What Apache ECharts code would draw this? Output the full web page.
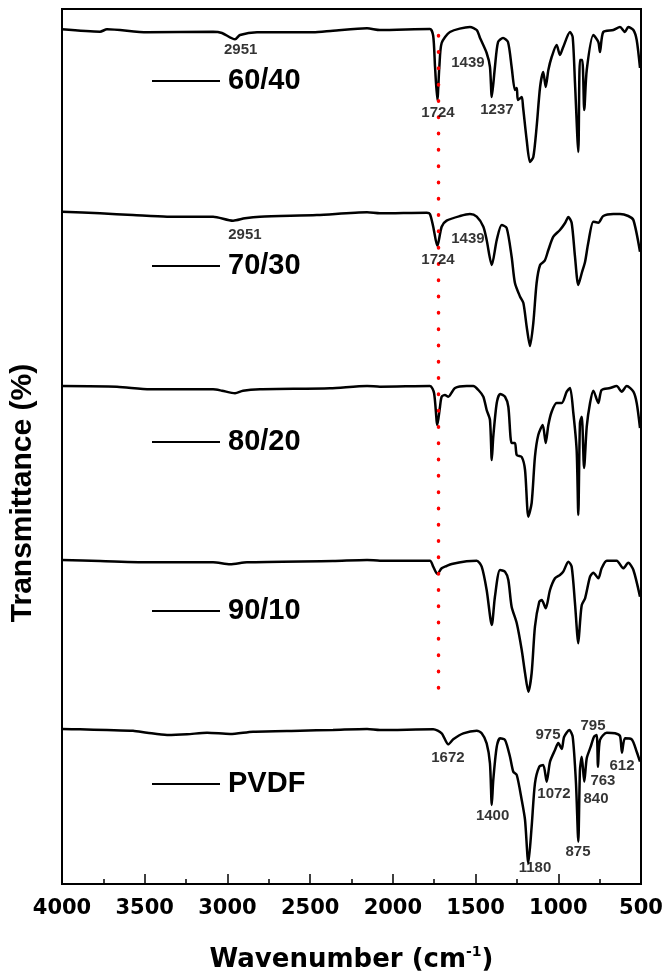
<!DOCTYPE html>
<html>
<head>
<meta charset="utf-8">
<script src="https://cdn.jsdelivr.net/npm/echarts@6/dist/echarts.min.js"></script>
<style>html,body{margin:0;padding:0;background:#fff;}#c{width:667px;height:976px;}</style>
</head>
<body>
<div id="c"></div>
<script>
// ---- data (wavenumber cm-1, relative transmittance) ----
const seriesNames = ['60/40', '70/30', '80/20', '90/10', 'PVDF'];
const offsets = [755, 572, 398, 224, 55];
const xTicks = [4000, 3500, 3000, 2500, 2000, 1500, 1000, 500];

const s6040 = [[4000,99.7],[3770,97.3],[3728,99.7],[3486,96.7],[3087,97.3],[3033,96],[2954,89.7],[2924,94],[2821,96.7],[2483,96.7],[2362,98.3],[2156,100.7],[2078,99],[1776,100],[1756,93],[1745,62],[1731,29],[1719,62],[1705,86],[1655,97],[1534,102],[1493,99],[1473,91],[1433,76],[1413,62],[1402,32],[1383,62],[1364,87],[1334,91],[1304,87],[1282,62],[1262,39],[1251,41],[1244,29],[1221,32],[1213,22],[1191,-11],[1171,-33],[1151,-28],[1131,2],[1110,42],[1091,57],[1076,42],[1060,59],[1040,72],[1010,84],[990,74],[970,82],[929,97],[913,92],[899,46],[879,-23],[869,69],[855,69],[843,19],[828,59],[788,94],[758,87],[748,77],[728,97],[667,99],[627,102],[597,97],[577,102],[546,99],[526,89],[506,61]];
const s7030 = [[4000,100.3],[3770,98.7],[3571,97],[3365,95.3],[3087,95.3],[2966,91.3],[2894,93.7],[2803,95.3],[2459,97],[2156,99.7],[2078,98.7],[1795,99.3],[1776,98],[1756,85.3],[1731,66],[1705,85.3],[1675,91.3],[1594,96],[1534,98],[1493,95.3],[1453,85.3],[1433,72],[1402,47],[1372,72],[1342,87],[1312,84],[1282,55.3],[1262,29],[1231,15.3],[1211,9],[1191,-14.7],[1171,-34],[1151,-11],[1131,29],[1110,47],[1082,51.3],[1060,62],[1030,75.3],[990,82],[959,89],[939,95],[919,89],[899,55.3],[879,27],[858,39],[838,50.3],[819,69],[788,90.3],[758,89.3],[728,96],[667,98],[627,98],[577,96],[546,92],[506,60.3]];
const s8020 = [[4000,100],[3668,99.3],[3468,96.7],[3087,96.7],[3033,95.3],[2954,92.7],[2906,95.3],[2803,96.7],[2380,97.7],[2156,100],[2078,99.3],[1776,100],[1751,93],[1731,61],[1715,79.3],[1705,89.3],[1685,91],[1665,89.3],[1624,98],[1554,100],[1514,100],[1483,96],[1453,89.3],[1433,76],[1413,66],[1402,26],[1393,49.3],[1372,83],[1352,92],[1322,89.3],[1302,79.3],[1282,43],[1262,43],[1251,31],[1221,29],[1201,16],[1181,-30.7],[1161,-17],[1141,29.3],[1121,51],[1094,61],[1076,43],[1060,61],[1040,74.3],[1010,83],[979,83],[949,94.3],[929,98],[909,73],[889,36],[879,-29],[869,63],[858,69.3],[844,18],[828,59.3],[808,83],[788,95.3],[758,83],[738,96],[687,98],[647,100],[617,94.3],[586,100],[546,94.3],[526,83],[506,58]];
const s9010 = [[4000,100],[3770,99],[3450,97.7],[3087,97.7],[2984,95.7],[2882,97.7],[2362,99],[2156,100],[2078,99.3],[1776,99.3],[1756,93.3],[1731,86],[1705,91.7],[1675,94],[1644,96],[1554,98.7],[1493,99.3],[1463,93.3],[1433,70],[1402,35],[1383,63.3],[1352,90],[1322,88.3],[1302,80],[1282,53.3],[1251,36.7],[1221,10],[1201,-13],[1181,-31.7],[1161,-13],[1141,33.3],[1115,58.3],[1100,60],[1076,51.7],[1050,70],[1020,81.7],[990,85],[970,88.3],[939,98.3],[919,93.3],[899,56.7],[879,16.7],[869,36.7],[858,55],[838,61.7],[808,83.3],[788,87.3],[758,81.7],[738,91.7],[707,99.3],[647,99.3],[607,91.7],[577,97.3],[546,90],[506,63.3]];
const sPVDF = [[4000,100],[3891,99.7],[3728,99],[3571,98.3],[3486,96.3],[3365,94],[3244,94.7],[3123,96.3],[2984,95],[2845,97.3],[2561,98.3],[2362,99],[2156,100],[2078,99],[1756,99.7],[1705,95.7],[1665,84.7],[1635,89.7],[1574,95.7],[1493,98.3],[1463,95.7],[1433,85.7],[1413,65.7],[1402,24],[1393,49],[1372,82.3],[1352,90.7],[1322,89],[1292,72.3],[1272,57.3],[1251,54],[1221,29],[1201,9],[1181,-34.3],[1161,2.3],[1141,45.7],[1115,62.3],[1091,64],[1070,47.3],[1050,67.3],[1020,79],[1000,86],[979,80],[965,92],[933,99],[913,92.3],[893,45.7],[879,-12.7],[869,59],[858,72.3],[843,47.3],[828,70.7],[804,82.3],[784,92.3],[768,94],[760,62.3],[748,89],[707,96.3],[657,95.7],[627,93],[615,76.3],[597,90.7],[556,89.7],[526,77.3],[506,67.3]];
const spectra = [s6040, s7030, s8020, s9010, sPVDF];

// peak annotations: [label, wavenumber anchor, relative value anchor]
const peaks6040 = [['2951', 2920, 79], ['1724', 1727, 16], ['1439', 1546, 66], ['1237', 1371, 19]];
const peaks7030 = [['2951', 2894, 77], ['1724', 1727, 52], ['1439', 1546, 73]];
const peaksPVDF = [['1672', 1667, 71], ['1400', 1397, 13], ['1180', 1141, -39], ['1072', 1026, 35], ['975', 1062, 94], ['875', 881, -23], ['840', 772, 30], ['763', 730, 48], ['795', 790, 103], ['612', 615, 63]];
const peakGroups = [[peaks6040, 0], [peaks7030, 1], [peaksPVDF, 4]];

// reference line at 1724 cm-1 (value range)
const refLine = [[1724, 196], [1724, 863]];

// ---- chart ----
const chart = echarts.init(document.getElementById('c'), null, {renderer: 'canvas'});
const legendTops = [66, 251, 427, 596, 769];

const series = [];
spectra.forEach((arr, i) => {
  series.push({
    name: seriesNames[i], type: 'line', symbol: 'none', smooth: 0.25,
    lineStyle: {color: '#000', width: 2.5}, itemStyle: {color: '#000'},
    data: arr.map(p => [p[0], p[1] + offsets[i]]), z: 3, silent: true
  });
});
peakGroups.forEach(([pk, si]) => {
  series.push({
    type: 'scatter', symbolSize: 0, silent: true, z: 5,
    data: pk.map(p => ({name: p[0], value: [p[1], p[2] + offsets[si]]})),
    label: {show: true, position: 'inside', formatter: '{b}', color: '#000',
      fontFamily: 'Liberation Sans, Arial', fontWeight: 'bold', fontSize: 15}
  });
});
series.push({
  type: 'line', symbol: 'none', silent: true, z: 4,
  data: refLine,
  lineStyle: {color: '#ff0000', width: 3.5, type: [0.5, 15.8], cap: 'round'}
});

const legends = seriesNames.map((n, i) => ({
  data: [n], left: 152, top: legendTops[i], orient: 'horizontal',
  icon: 'rect', itemWidth: 68, itemHeight: 2, padding: 0, selectedMode: false,
  textStyle: {fontFamily: 'Liberation Sans, Arial', fontWeight: 'bold', fontSize: 29, color: '#000', lineHeight: 30, padding: [0, 0, 0, 3]}
}));

chart.setOption({
  animation: false,
  backgroundColor: '#fff',
  legend: legends,
  grid: {left: 62, right: 26, top: 9, bottom: 92, containLabel: false, outerBoundsMode: 'none',
    show: true, borderColor: '#000', borderWidth: 2, backgroundColor: 'transparent'},
  xAxis: {
    type: 'value', min: 500, max: 4000, interval: 500, inverse: true,
    axisLine: {show: true, onZero: false, lineStyle: {color: '#000', width: 2}},
    axisTick: {show: true, inside: true, length: 10, lineStyle: {color: '#000', width: 1.5}},
    minorTick: {show: true, splitNumber: 2, length: 5, lineStyle: {color: '#000', width: 1.5}},
    splitLine: {show: false},
    axisLabel: {show: true, margin: 14, color: '#000', fontFamily: 'DejaVu Sans', fontWeight: 'bold', fontSize: 21,
      showMinLabel: true, showMaxLabel: true, customValues: xTicks,
      formatter: v => String(v)},
    name: 'Wavenumber (cm{sup|-1})', nameLocation: 'middle', nameGap: 61,
    nameTextStyle: {color: '#000', fontFamily: 'DejaVu Sans', fontWeight: 'bold', fontSize: 26, lineHeight: 30,
      rich: {sup: {fontFamily: 'DejaVu Sans', fontWeight: 'bold', fontSize: 14, lineHeight: 30, verticalAlign: 'top', color: '#000'}}}
  },
  yAxis: {
    type: 'value', min: 0, max: 875,
    axisLine: {show: true, lineStyle: {color: '#000', width: 2}},
    axisTick: {show: false}, axisLabel: {show: false}, splitLine: {show: false},
    name: 'Transmittance (%)', nameLocation: 'middle', nameGap: 24, nameRotate: 90,
    nameTextStyle: {color: '#000', fontFamily: 'Liberation Sans, Arial', fontWeight: 'bold', fontSize: 30, padding: [0, 93, 0, 0]}
  },
  series: series
});
</script>
</body>
</html>
